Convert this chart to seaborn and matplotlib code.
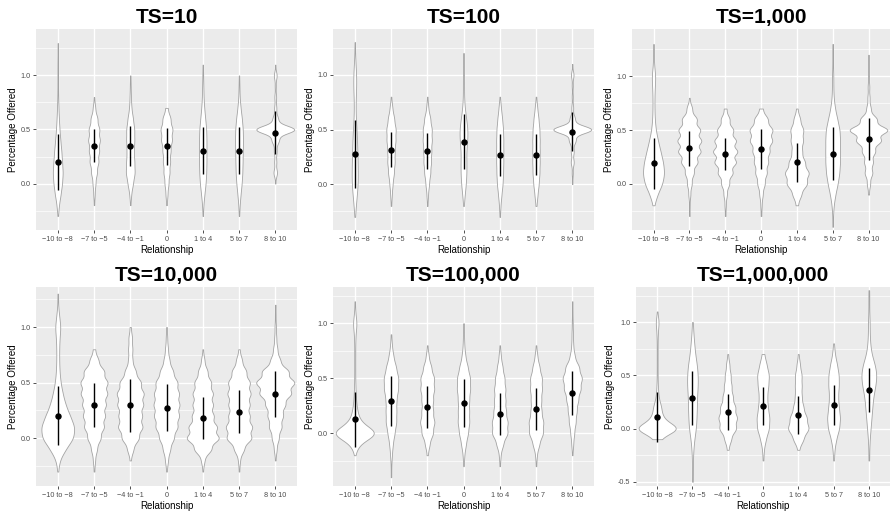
import numpy as np
import pandas as pd
import matplotlib
matplotlib.use("Agg")
import matplotlib.pyplot as plt
import matplotlib.ticker as mticker
import seaborn as sns

# categories on the x axis
relationships = ["−10 to −8", "−7 to −5", "−4 to −1", "0", "1 to 4", "5 to 7", "8 to 10"]
titles = ["TS=10", "TS=100", "TS=1,000", "TS=10,000", "TS=100,000", "TS=1,000,000"]

# offer values the counts below refer to
offer_grid = [-0.5, -0.4, -0.3, -0.2, -0.1, 0.0, 0.1, 0.2, 0.3, 0.4,
              0.5, 0.6, 0.7, 0.8, 0.9, 1.0, 1.1, 1.2, 1.3, 1.4]

counts_ts10 = [
    [0, 0, 2, 8, 20, 30, 35, 30, 25, 18, 12, 8, 5, 3, 2, 2, 2, 1, 1, 0],
    [0, 0, 0, 1, 3, 6, 12, 18, 21, 24, 22, 14, 5, 1, 0, 0, 0, 0, 0, 0],
    [0, 0, 0, 1, 4, 12, 20, 18, 16, 18, 18, 12, 5, 3, 2, 1, 0, 0, 0, 0],
    [0, 0, 0, 2, 5, 10, 15, 18, 20, 27, 30, 20, 6, 0, 0, 0, 0, 0, 0, 0],
    [0, 0, 1, 3, 8, 14, 17, 18, 18, 18, 17, 12, 7, 4, 3, 2, 1, 0, 0, 0],
    [0, 0, 1, 3, 7, 12, 15, 16, 17, 18, 17, 13, 7, 3, 2, 1, 0, 0, 0, 0],
    [0, 0, 0, 0, 0, 1, 10, 6, 8, 20, 110, 15, 6, 5, 3, 8, 1, 0, 0, 0],
]
counts_ts100 = [
    [0, 0, 1, 4, 8, 12, 12, 11, 10, 9, 7, 4, 3, 4, 6, 6, 3, 1, 1, 0],
    [0, 0, 0, 1, 3, 6, 11, 14, 14, 17, 18, 12, 5, 1, 0, 0, 0, 0, 0, 0],
    [0, 0, 0, 1, 3, 7, 12, 15, 16, 18, 18, 12, 4, 1, 0, 0, 0, 0, 0, 0],
    [0, 0, 0, 1, 4, 8, 10, 10, 9, 13, 14, 9, 4, 2, 2, 2, 1, 1, 0, 0],
    [0, 0, 1, 3, 7, 12, 14, 15, 15, 15, 14, 10, 5, 1, 0, 0, 0, 0, 0, 0],
    [0, 0, 0, 2, 6, 11, 14, 15, 15, 15, 14, 10, 5, 1, 0, 0, 0, 0, 0, 0],
    [0, 0, 0, 0, 0, 1, 3, 8, 8, 18, 105, 14, 5, 3, 3, 7, 1, 0, 0, 0],
]
counts_ts1k = [
    [0, 0, 0, 2, 12, 28, 34, 30, 22, 14, 7, 4, 3, 3, 4, 6, 2, 1, 1, 0],
    [0, 0, 1, 1, 3, 7, 13, 24, 33, 35, 32, 22, 8, 1, 0, 0, 0, 0, 0, 0],
    [0, 0, 1, 2, 5, 12, 22, 32, 36, 32, 24, 13, 4, 0, 0, 0, 0, 0, 0, 0],
    [0, 0, 1, 2, 5, 11, 17, 21, 25, 33, 34, 20, 5, 0, 0, 0, 0, 0, 0, 0],
    [0, 0, 0, 3, 12, 28, 33, 22, 14, 17, 18, 9, 2, 0, 0, 0, 0, 0, 0, 0],
    [0, 1, 1, 3, 8, 15, 20, 22, 22, 22, 21, 14, 7, 3, 2, 2, 1, 1, 1, 0],
    [0, 0, 0, 0, 2, 6, 14, 16, 24, 45, 70, 30, 8, 4, 3, 2, 1, 1, 0, 0],
]
counts_ts10k = [
    [0, 0, 1, 5, 22, 45, 48, 35, 22, 14, 8, 5, 4, 4, 5, 8, 4, 1, 1, 0],
    [0, 0, 1, 3, 8, 18, 27, 30, 32, 36, 37, 28, 12, 3, 0, 0, 0, 0, 0, 0],
    [0, 0, 0, 2, 10, 28, 40, 38, 42, 44, 35, 18, 7, 7, 6, 2, 0, 0, 0, 0],
    [0, 0, 1, 4, 10, 20, 30, 34, 35, 34, 30, 18, 8, 4, 2, 1, 0, 0, 0, 0],
    [0, 0, 1, 5, 25, 48, 42, 32, 30, 30, 25, 14, 5, 1, 0, 0, 0, 0, 0, 0],
    [0, 0, 1, 3, 15, 38, 40, 32, 32, 35, 33, 22, 9, 2, 0, 0, 0, 0, 0, 0],
    [0, 0, 0, 1, 4, 10, 18, 22, 28, 45, 55, 38, 14, 6, 3, 2, 1, 1, 0, 0],
]
counts_ts100k = [
    [0, 0, 0, 1, 15, 100, 22, 10, 5, 3, 2, 2, 2, 2, 3, 8, 2, 1, 0, 0],
    [0, 1, 1, 3, 6, 12, 18, 18, 18, 24, 25, 17, 8, 3, 1, 0, 0, 0, 0, 0],
    [0, 0, 0, 2, 8, 20, 25, 20, 20, 24, 24, 14, 5, 1, 0, 0, 0, 0, 0, 0],
    [0, 0, 1, 3, 9, 17, 22, 21, 21, 25, 25, 16, 7, 3, 2, 1, 0, 0, 0, 0],
    [0, 0, 1, 3, 12, 28, 28, 22, 20, 20, 17, 10, 4, 1, 0, 0, 0, 0, 0, 0],
    [0, 0, 1, 3, 12, 26, 27, 20, 19, 22, 22, 13, 5, 1, 0, 0, 0, 0, 0, 0],
    [0, 0, 0, 1, 4, 8, 14, 18, 24, 34, 40, 28, 10, 4, 3, 2, 1, 1, 0, 0],
]
counts_ts1m = [
    [0, 0, 0, 0, 12, 100, 25, 18, 6, 3, 2, 2, 2, 2, 3, 7, 1, 0, 0, 0],
    [1, 1, 1, 2, 4, 8, 9, 10, 10, 12, 12, 10, 6, 4, 2, 1, 0, 0, 0, 0],
    [0, 0, 0, 2, 8, 20, 22, 18, 12, 9, 7, 4, 1, 0, 0, 0, 0, 0, 0, 0],
    [0, 0, 1, 2, 7, 15, 16, 12, 10, 13, 15, 9, 3, 0, 0, 0, 0, 0, 0, 0],
    [0, 0, 0, 2, 12, 25, 20, 12, 8, 8, 8, 4, 1, 0, 0, 0, 0, 0, 0, 0],
    [0, 0, 1, 2, 6, 13, 15, 12, 10, 12, 12, 8, 3, 1, 0, 0, 0, 0, 0, 0],
    [0, 0, 1, 1, 2, 4, 6, 8, 10, 15, 18, 14, 6, 3, 2, 2, 1, 1, 1, 0],
]

# mean and standard deviation shown as the black point ranges
means_ts10 = [0.20, 0.35, 0.345, 0.345, 0.305, 0.305, 0.47]
sds_ts10 = [0.26, 0.15, 0.185, 0.17, 0.215, 0.215, 0.20]
means_ts100 = [0.275, 0.315, 0.305, 0.39, 0.265, 0.27, 0.48]
sds_ts100 = [0.31, 0.16, 0.165, 0.25, 0.195, 0.185, 0.18]
means_ts1k = [0.19, 0.33, 0.28, 0.32, 0.20, 0.28, 0.415]
sds_ts1k = [0.24, 0.165, 0.15, 0.185, 0.18, 0.245, 0.195]
means_ts10k = [0.20, 0.30, 0.295, 0.275, 0.18, 0.24, 0.40]
sds_ts10k = [0.265, 0.20, 0.235, 0.21, 0.19, 0.19, 0.205]
means_ts100k = [0.125, 0.295, 0.24, 0.275, 0.175, 0.22, 0.37]
sds_ts100k = [0.25, 0.225, 0.19, 0.215, 0.19, 0.19, 0.20]
means_ts1m = [0.11, 0.29, 0.155, 0.21, 0.125, 0.22, 0.36]
sds_ts1m = [0.235, 0.255, 0.17, 0.18, 0.18, 0.185, 0.205]

y_limits = [(-0.43, 1.43), (-0.42, 1.42), (-0.43, 1.44),
            (-0.43, 1.36), (-0.48, 1.33), (-0.54, 1.33)]

W, H = 892, 514
# panel boxes in pixels: left, top, right, bottom
panel_boxes = [(36, 29, 297, 230), (333, 29, 594, 230), (632, 29, 890, 230),
               (36, 287, 297, 486), (333, 287, 594, 486), (636, 287, 890, 486)]


def build_frame(counts):
    """Expand the read-off counts into one row per offer."""
    parts = []
    for rel, c in zip(relationships, counts):
        vals = np.repeat(offer_grid, c)
        parts.append(pd.DataFrame({"Relationship": rel, "Offered": vals}))
    return pd.concat(parts, ignore_index=True)


def draw_panel(ax, title, counts, means, sds, ylim):
    """Violins plus mean +/- sd, ggplot grey style."""
    df = build_frame(counts)
    ax.set_facecolor("#EBEBEB")
    ax.set_axisbelow(True)
    sns.violinplot(data=df, x="Relationship", y="Offered", order=relationships,
                   color="white", saturation=1, linecolor="#A3A3A3", linewidth=0.6,
                   inner=None, cut=0, density_norm="area", width=1.05,
                   bw_adjust=0.55, ax=ax)
    xpos = np.arange(len(relationships))
    ax.errorbar(xpos, means, yerr=sds, fmt="o", color="black", ms=3.6,
                elinewidth=1.0, capsize=0, zorder=5)

    ax.set_xlim(-0.6, len(relationships) - 0.4)
    ax.set_ylim(*ylim)
    ax.yaxis.set_major_locator(mticker.MultipleLocator(0.5))
    ax.yaxis.set_minor_locator(mticker.MultipleLocator(0.25))
    ax.yaxis.set_major_formatter(mticker.FuncFormatter(lambda v, p: f"{v:.1f}".replace("-0.0", "0.0")))
    ax.grid(which="major", color="white", linewidth=1.0)
    ax.grid(which="minor", axis="y", color="white", linewidth=0.5)
    ax.tick_params(which="major", length=2.5, width=0.6, color="#333333",
                   labelsize=5.2, labelcolor="#4D4D4D", pad=1.5)
    ax.tick_params(which="minor", length=0)
    for s in ax.spines.values():
        s.set_visible(False)

    ax.set_title(title, fontsize=15, fontweight="bold", pad=4)
    ax.set_xlabel("Relationship", fontsize=7, labelpad=1.5)
    ax.set_ylabel("Percentage Offered", fontsize=7, labelpad=2)


if __name__ == "__main__":
    plt.rcParams["font.family"] = ["Liberation Sans", "DejaVu Sans"]
    fig = plt.figure(figsize=(W / 100, H / 100), dpi=100)

    all_counts = [counts_ts10, counts_ts100, counts_ts1k, counts_ts10k, counts_ts100k, counts_ts1m]
    all_means = [means_ts10, means_ts100, means_ts1k, means_ts10k, means_ts100k, means_ts1m]
    all_sds = [sds_ts10, sds_ts100, sds_ts1k, sds_ts10k, sds_ts100k, sds_ts1m]

    for i, (l, t, r, b) in enumerate(panel_boxes):
        ax = fig.add_axes([l / W, 1 - b / H, (r - l) / W, (b - t) / H])
        draw_panel(ax, titles[i], all_counts[i], all_means[i], all_sds[i], y_limits[i])

    fig.savefig("out.png", dpi=100, facecolor="white")
